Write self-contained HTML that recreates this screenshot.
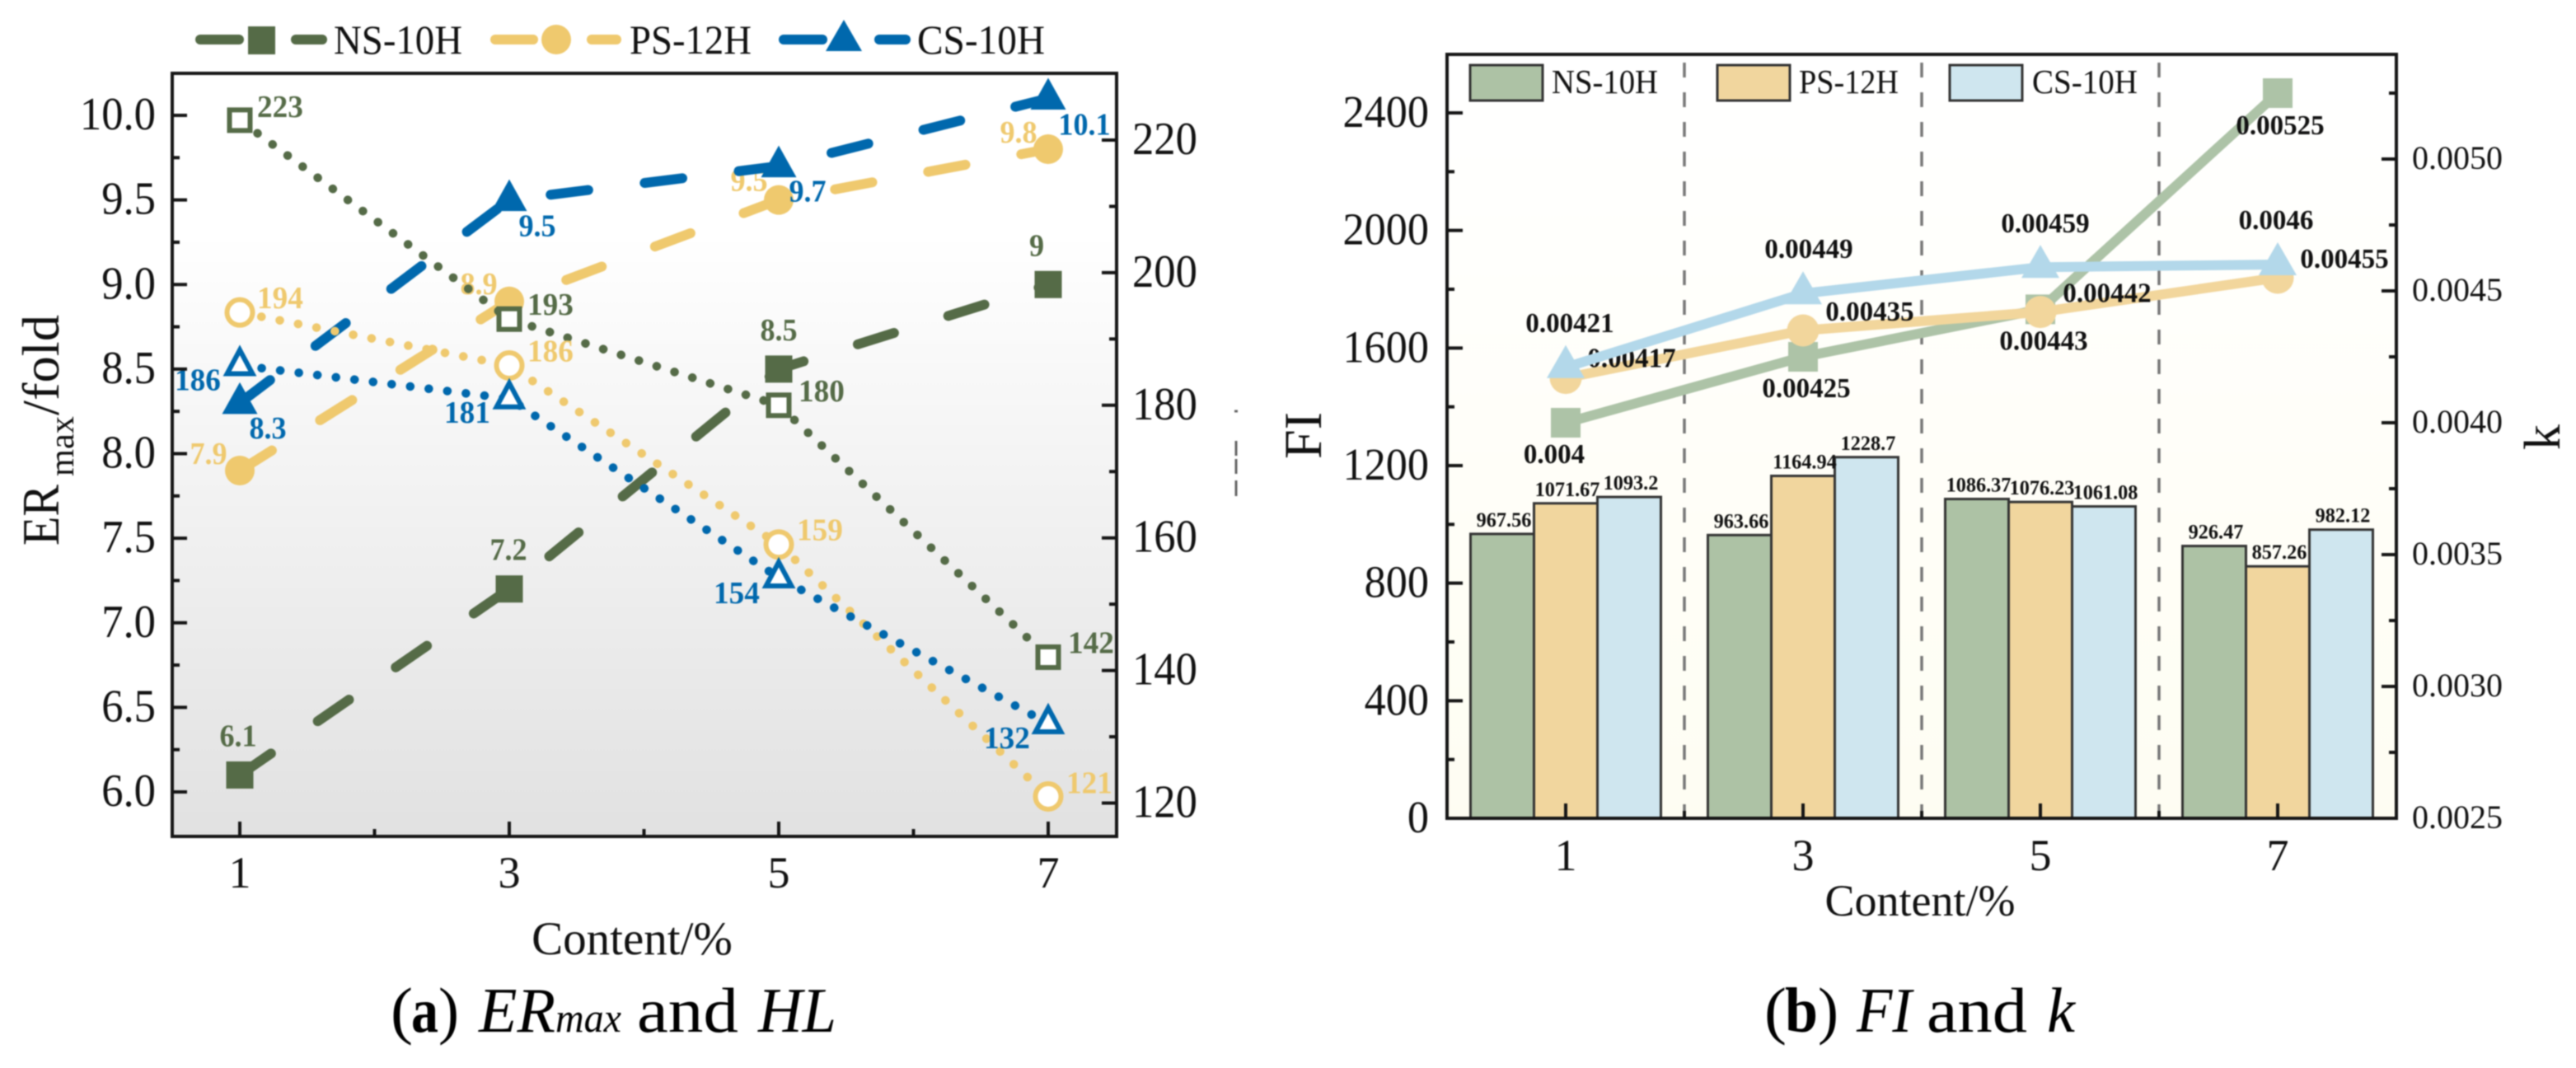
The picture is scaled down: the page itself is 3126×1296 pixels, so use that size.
<!DOCTYPE html>
<html lang="en">
<head>
<meta charset="utf-8">
<title>ERmax, HL, FI and k versus content</title>
<style>
html,body{margin:0;padding:0;background:#fff;}
svg{display:block;font-family:"Liberation Serif",serif;filter:blur(0.7px);}
</style>
</head>
<body>
<svg id="figure" xmlns="http://www.w3.org/2000/svg" width="3126" height="1296" viewBox="0 0 3126 1296">
  <defs>
    <linearGradient id="bgLeft" x1="0" y1="0" x2="0" y2="1">
      <stop offset="0.2" stop-color="#ffffff"/>
      <stop offset="1" stop-color="#e1e1e1"/>
    </linearGradient>
    <linearGradient id="bgRight" x1="0" y1="0" x2="0" y2="1">
      <stop offset="0" stop-color="#ffffff"/>
      <stop offset="1" stop-color="#fefdf2"/>
    </linearGradient>
  </defs>

  <!-- Panel (a) static parts -->
  <g>
    <rect x="209" y="89" width="1146" height="926" fill="url(#bgLeft)"/>
    <g id="a-content"></g>
    <rect x="209" y="89" width="1146" height="926" fill="none" stroke="#151515" stroke-width="4"/>
    <g id="a-axes"></g>

    <g font-size="64" fill="#111">
      <text transform="translate(71 662) rotate(-90)" textLength="74" lengthAdjust="spacingAndGlyphs">ER</text>
      <text transform="translate(89 578) rotate(-90)" font-size="42" textLength="73" lengthAdjust="spacingAndGlyphs">max</text>
      <text transform="translate(71 504) rotate(-90)" textLength="122" lengthAdjust="spacingAndGlyphs">/fold</text>
    </g>
    <text x="767" y="1158" font-size="57" text-anchor="middle" fill="#111">Content/%</text>

    <g>
      <g>
        <line x1="243" y1="48" x2="290" y2="48" stroke="#556b47" stroke-width="12" stroke-linecap="round"/>
        <rect x="301" y="32" width="33" height="34" fill="#556b47"/>
        <line x1="359" y1="48" x2="391" y2="48" stroke="#556b47" stroke-width="12" stroke-linecap="round"/>
        <text x="405" y="65" font-size="50" fill="#111" textLength="156" lengthAdjust="spacingAndGlyphs">NS-10H</text>
      </g>
      <g>
        <line x1="601" y1="48" x2="647" y2="48" stroke="#efc96e" stroke-width="12" stroke-linecap="round"/>
        <circle cx="675" cy="48" r="18" fill="#efc96e"/>
        <line x1="718" y1="48" x2="748" y2="48" stroke="#efc96e" stroke-width="12" stroke-linecap="round"/>
        <text x="764" y="65" font-size="50" fill="#111" textLength="148" lengthAdjust="spacingAndGlyphs">PS-12H</text>
      </g>
      <g>
        <line x1="951" y1="48" x2="998" y2="48" stroke="#0068ad" stroke-width="12" stroke-linecap="round"/>
        <polygon points="1024,24 1046,62 1002,62" fill="#0068ad"/>
        <line x1="1067" y1="48" x2="1099" y2="48" stroke="#0068ad" stroke-width="12" stroke-linecap="round"/>
        <text x="1113" y="65" font-size="50" fill="#111" textLength="155" lengthAdjust="spacingAndGlyphs">CS-10H</text>
      </g>
    </g>

    <g stroke="#666" stroke-width="3">
      <line x1="1498" y1="499" x2="1502" y2="499"/>
      <line x1="1500" y1="535" x2="1500" y2="553"/>
      <line x1="1500" y1="557" x2="1500" y2="575"/>
      <line x1="1500" y1="583" x2="1500" y2="602"/>
    </g>

    <g font-size="77" fill="#000">
      <text x="474" y="1252" textLength="27" lengthAdjust="spacingAndGlyphs">(</text>
      <text x="499" y="1252" font-weight="bold" textLength="33" lengthAdjust="spacingAndGlyphs">a</text>
      <text x="532" y="1252" textLength="25" lengthAdjust="spacingAndGlyphs">)</text>
      <text x="581" y="1252" font-style="italic" textLength="93" lengthAdjust="spacingAndGlyphs">ER</text>
      <text x="674" y="1252" font-style="italic" font-size="50" textLength="80" lengthAdjust="spacingAndGlyphs">max</text>
      <text x="773" y="1252" textLength="123" lengthAdjust="spacingAndGlyphs">and</text>
      <text x="920" y="1252" font-style="italic" textLength="95" lengthAdjust="spacingAndGlyphs">HL</text>
    </g>
  </g>

  <!-- Panel (b) static parts -->
  <g>
    <rect x="1756" y="66" width="1152" height="927" fill="url(#bgRight)"/>
    <g id="b-content"></g>
    <rect x="1756" y="66" width="1152" height="927" fill="none" stroke="#151515" stroke-width="4"/>
    <g id="b-axes"></g>

    <text transform="translate(1603 557) rotate(-90)" font-size="65" fill="#111" textLength="57" lengthAdjust="spacingAndGlyphs">FI</text>
    <text transform="translate(3106 546) rotate(-90)" font-size="62" fill="#111">k</text>
    <text x="2330" y="1111" font-size="54" text-anchor="middle" fill="#111">Content/%</text>

    <g>
      <g>
        <rect x="1784" y="79" width="88" height="43" fill="#adc2a5" stroke="#333" stroke-width="3"/>
        <text x="1883" y="113" font-size="41" fill="#111" textLength="129" lengthAdjust="spacingAndGlyphs">NS-10H</text>
      </g>
      <g>
        <rect x="2084" y="79" width="88" height="43" fill="#f1d69e" stroke="#333" stroke-width="3"/>
        <text x="2183" y="113" font-size="41" fill="#111" textLength="121" lengthAdjust="spacingAndGlyphs">PS-12H</text>
      </g>
      <g>
        <rect x="2366" y="79" width="88" height="43" fill="#cfe6ef" stroke="#333" stroke-width="3"/>
        <text x="2466" y="113" font-size="41" fill="#111" textLength="128" lengthAdjust="spacingAndGlyphs">CS-10H</text>
      </g>
    </g>

    <g font-size="77" fill="#000">
      <text x="2141" y="1252" textLength="27" lengthAdjust="spacingAndGlyphs">(</text>
      <text x="2166" y="1252" font-weight="bold" textLength="40" lengthAdjust="spacingAndGlyphs">b</text>
      <text x="2206" y="1252" textLength="25" lengthAdjust="spacingAndGlyphs">)</text>
      <text x="2253" y="1252" font-style="italic" textLength="67" lengthAdjust="spacingAndGlyphs">FI</text>
      <text x="2338" y="1252" textLength="122" lengthAdjust="spacingAndGlyphs">and</text>
      <text x="2484" y="1252" font-style="italic" textLength="34" lengthAdjust="spacingAndGlyphs">k</text>
    </g>
  </g>
</svg>

<script>
// Categories
const contentLevels = [1, 3, 5, 7];
const contentTickLabels = ['1', '3', '5', '7'];

// Panel (a) series: ERmax (left axis)
const erNS = [6.1, 7.2, 8.5, 9];
const erPS = [7.9, 8.9, 9.5, 9.8];
const erCS = [8.3, 9.5, 9.7, 10.1];

// Panel (a) series: HL (right axis)
const hlNS = [223, 193, 180, 142];
const hlPS = [194, 186, 159, 121];
const hlCS = [186, 181, 154, 132];

// Panel (a) ticks
const erTicks = [6, 6.5, 7, 7.5, 8, 8.5, 9, 9.5, 10];
const erTickLabels = ['6.0', '6.5', '7.0', '7.5', '8.0', '8.5', '9.0', '9.5', '10.0'];
const erMinorTicks = [6.25, 6.75, 7.25, 7.75, 8.25, 8.75, 9.25, 9.75];
const hlTicks = [120, 140, 160, 180, 200, 220];
const hlTickLabels = ['120', '140', '160', '180', '200', '220'];
const hlMinorTicks = [130, 150, 170, 190, 210];

// Panel (b) series: FI bars (left axis)
const fiNS = [967.56, 963.66, 1086.37, 926.47];
const fiPS = [1071.67, 1164.94, 1076.23, 857.26];
const fiCS = [1093.2, 1228.7, 1061.08, 982.12];

// Panel (b) series: k lines (right axis)
const kNS = [0.004, 0.00425, 0.00443, 0.00525];
const kPS = [0.00417, 0.00435, 0.00442, 0.00455];
const kCS = [0.00421, 0.00449, 0.00459, 0.0046];

// Panel (b) ticks
const fiTicks = [0, 400, 800, 1200, 1600, 2000, 2400];
const fiTickLabels = ['0', '400', '800', '1200', '1600', '2000', '2400'];
const fiMinorTicks = [200, 600, 1000, 1400, 1800, 2200];
const kTicks = [0.0025, 0.003, 0.0035, 0.004, 0.0045, 0.005];
const kTickLabels = ['0.0025', '0.0030', '0.0035', '0.0040', '0.0045', '0.0050'];
const kMinorTicks = [0.00275, 0.00325, 0.00375, 0.00425, 0.00475, 0.00525];

// Axis functions
const xA = c => 291 + (c - 1) * 163.5;
const yER = v => 961 - (v - 6) * 205.25;
const yHL = v => 974.5 - (v - 120) * 8.045;
const xB = c => 1756 + c * 144;
const yFI = v => 993 - v * 0.35667;
const yK = v => 993 - (v - 0.0025) * 320000;

const SVG_NS = 'http://www.w3.org/2000/svg';

function mk(parent, tag, name, attrs) {
  const el = document.createElementNS(SVG_NS, tag);
  
  
  for (const k in attrs) el.setAttribute(k, attrs[k]);
  parent.appendChild(el);
  return el;
}

function txt(parent, name, str, x, y, size, fill, anchor, bold, sx) {
  const el = mk(parent, 'text', name, {
    transform: 'translate(' + x + ' ' + y + ') scale(' + (sx || 1) + ' 1)',
    'font-size': size,
    fill: fill,
    'text-anchor': anchor || 'start'
  });
  if (bold) el.setAttribute('font-weight', 'bold');
  el.textContent = str;
  return el;
}

function linePath(xs, ys) {
  return xs.map((x, i) => (i ? 'L' : 'M') + x.toFixed(1) + ' ' + ys[i].toFixed(1)).join(' ');
}

function marker(parent, name, shape, x, y, color, open, big) {
  if (shape === 'square') {
    if (open) {
      mk(parent, 'rect', name, { x: x - 12.5, y: y - 12.5, width: 25, height: 25, fill: '#fff', stroke: color, 'stroke-width': 6 });
    } else {
      const s = big ? 18 : 16.5;
      mk(parent, 'rect', name, { x: x - s, y: y - s, width: s * 2, height: s * 2, fill: color });
    }
  } else if (shape === 'circle') {
    if (open) {
      mk(parent, 'circle', name, { cx: x, cy: y, r: 15.5, fill: '#fff', stroke: color, 'stroke-width': 6 });
    } else {
      mk(parent, 'circle', name, { cx: x, cy: y, r: big ? 19.5 : 18, fill: color });
    }
  } else {
    let pts;
    if (open) {
      pts = [[x, y - 18.8], [x + 15.4, y + 10], [x - 15.4, y + 10]];
      mk(parent, 'polygon', name, { points: pts.map(p => p.join(',')).join(' '), fill: '#fff', stroke: color, 'stroke-width': 6 });
    } else {
      pts = big ? [[x, y - 27], [x + 23, y + 13], [x - 23, y + 13]] : [[x, y - 25], [x + 21.5, y + 13.5], [x - 21.5, y + 13.5]];
      mk(parent, 'polygon', name, { points: pts.map(p => p.join(',')).join(' '), fill: color });
    }
  }
}

// ---------- Panel (a) ----------
const gA = document.getElementById('a-content');
const axA = document.getElementById('a-axes');
const GREEN = '#556b47', YELLOW = '#efc96e', BLUE = '#0068ad';
const LABEL_SIZE = 38;

const erLabelLayout = {
  ns: { anchor: 'middle', nudge: [[-2, -35], [-1, -35], [0, -35], [-14, -35]] },
  ps: { anchor: 'middle', nudge: [[-38, -8], [-37, -9], [-36, -11], [-36, -8]] },
  cs: { anchor: 'middle', nudge: [[34, 43], [34, 44], [35, 43], [44, 44]] }
};
const hlLabelLayout = {
  ns: { anchor: 'start', nudge: [[21, -4], [22, -5], [24, -5], [24, -5]] },
  ps: { anchor: 'start', nudge: [[21, -5], [22, -5], [22, -5], [22, -4]] },
  cs: { anchor: 'start', nudge: [[-79, 30], [-79, 29], [-79, 31], [-78, 30]] }
};

function drawErSeries(key, values, color, shape) {
  const g = mk(gA, 'g', 'er-series-' + key, {});
  const xs = contentLevels.map(xA);
  const ys = values.map(yER);
  mk(g, 'path', 'er-line-' + key, {
    d: linePath(xs, ys), fill: 'none', stroke: color, 'stroke-width': 12,
    'stroke-linecap': 'round', 'stroke-dasharray': '46 69'
  });
  values.forEach((v, i) => {
    marker(g, 'er-point-' + key + '-' + contentLevels[i], shape, xs[i], ys[i], color, false, false);
    const n = erLabelLayout[key].nudge[i];
    txt(g, 'er-label-' + key + '-' + contentLevels[i], String(v), xs[i] + n[0], ys[i] + n[1], LABEL_SIZE, color, 'middle', true, 0.95);
  });
}

function drawHlSeries(key, values, color, shape) {
  const g = mk(gA, 'g', 'hl-series-' + key, {});
  const xs = contentLevels.map(xA);
  const ys = values.map(yHL);
  mk(g, 'path', 'hl-line-' + key, {
    d: linePath(xs, ys), fill: 'none', stroke: color, 'stroke-width': 10.5,
    'stroke-linecap': 'round', 'stroke-dasharray': '0.1 22.6', 'stroke-dashoffset': -4
  });
  values.forEach((v, i) => {
    marker(g, 'hl-point-' + key + '-' + contentLevels[i], shape, xs[i], ys[i], color, true, false);
    const n = hlLabelLayout[key].nudge[i];
    txt(g, 'hl-label-' + key + '-' + contentLevels[i], String(v), xs[i] + n[0], ys[i] + n[1], LABEL_SIZE, color, 'start', true, 0.98);
  });
}

drawErSeries('ns', erNS, GREEN, 'square');
drawErSeries('ps', erPS, YELLOW, 'circle');
drawErSeries('cs', erCS, BLUE, 'triangle');
drawHlSeries('ns', hlNS, GREEN, 'square');
drawHlSeries('ps', hlPS, YELLOW, 'circle');
drawHlSeries('cs', hlCS, BLUE, 'triangle');

const TICK = { stroke: '#151515', 'stroke-width': 4 };
function tick(parent, name, x1, y1, x2, y2) {
  mk(parent, 'line', name, Object.assign({ x1: x1, y1: y1, x2: x2, y2: y2 }, TICK));
}

erTicks.forEach((v, i) => {
  tick(axA, 'er-tick', 209, yER(v), 227, yER(v));
  txt(axA, 'er-tick-label', erTickLabels[i], 189, yER(v) + 17, 56, '#111', 'end', false, 0.94);
});
erMinorTicks.forEach(v => tick(axA, 'er-minor-tick', 209, yER(v), 218, yER(v)));
hlTicks.forEach((v, i) => {
  tick(axA, 'hl-tick', 1355, yHL(v), 1337, yHL(v));
  txt(axA, 'hl-tick-label', hlTickLabels[i], 1374, yHL(v) + 17, 56, '#111', 'start', false, 0.94);
});
hlMinorTicks.forEach(v => tick(axA, 'hl-minor-tick', 1355, yHL(v), 1346, yHL(v)));
contentLevels.forEach((c, i) => {
  tick(axA, 'x-tick-a', xA(c), 1015, xA(c), 997);
  txt(axA, 'x-tick-label-a', contentTickLabels[i], xA(c), 1077, 54, '#111', 'middle');
  if (i < contentLevels.length - 1) {
    tick(axA, 'x-minor-tick-a', xA(c + 1), 1015, xA(c + 1), 1006);
  }
});

// ---------- Panel (b) ----------
const gB = document.getElementById('b-content');
const axB = document.getElementById('b-axes');

contentLevels.slice(0, 3).forEach(c => {
  mk(gB, 'line', 'group-separator', {
    x1: xB(c + 1), y1: 76, x2: xB(c + 1), y2: 993,
    stroke: '#777', 'stroke-width': 3.5, 'stroke-dasharray': '18 18'
  });
});

const BAR_W = 77;
function drawBars(key, values, color, slot) {
  const g = mk(gB, 'g', 'fi-bars-' + key, {});
  values.forEach((v, i) => {
    const x = xB(contentLevels[i]) + (slot - 1.5) * BAR_W;
    mk(g, 'rect', 'fi-bar-' + key + '-' + contentLevels[i], {
      x: x, y: yFI(v), width: BAR_W, height: 993 - yFI(v), fill: color, stroke: '#333', 'stroke-width': 3
    });
  });
  return g;
}
function drawBarLabels(key, values, slot) {
  const g = mk(gB, 'g', 'fi-labels-' + key, {});
  values.forEach((v, i) => {
    const x = xB(contentLevels[i]) + (slot - 1) * BAR_W + 2;
    txt(g, 'fi-label-' + key + '-' + contentLevels[i], String(v), x, yFI(v) - 9, 25, '#111', 'middle', true, 0.97);
  });
}
drawBars('ns', fiNS, '#adc2a5', 0);
drawBars('ps', fiPS, '#f1d69e', 1);
drawBars('cs', fiCS, '#cfe6ef', 2);
drawBarLabels('ns', fiNS, 0);
drawBarLabels('ps', fiPS, 1);
drawBarLabels('cs', fiCS, 2);

const kLabelNudge = {
  ns: [[-14, 49], [4, 49], [4, 49], [3, 50]],
  ps: [[80, -13], [81, -12], [81, -12], [81, -12]],
  cs: [[5, -43], [7, -43], [6, -42], [-2, -43]]
};
function drawKSeries(key, values, color, shape) {
  const g = mk(gB, 'g', 'k-series-' + key, {});
  const xs = contentLevels.map(xB);
  const ys = values.map(yK);
  mk(g, 'path', 'k-line-' + key, { d: linePath(xs, ys), fill: 'none', stroke: color, 'stroke-width': 12 });
  values.forEach((v, i) => {
    marker(g, 'k-point-' + key + '-' + contentLevels[i], shape, xs[i], ys[i], color, false, true);
    const n = kLabelNudge[key][i];
    txt(g, 'k-label-' + key + '-' + contentLevels[i], String(v), xs[i] + n[0], ys[i] + n[1], 34, '#111', 'middle', true, 0.97);
  });
}
drawKSeries('ns', kNS, '#adc3a7', 'square');
drawKSeries('ps', kPS, '#f2d69c', 'circle');
drawKSeries('cs', kCS, '#b3d8ea', 'triangle');

fiTicks.forEach((v, i) => {
  tick(axB, 'fi-tick', 1756, yFI(v), 1775, yFI(v));
  txt(axB, 'fi-tick-label', fiTickLabels[i], 1734, yFI(v) + 17, 55, '#111', 'end', false, 0.95);
});
fiMinorTicks.forEach(v => tick(axB, 'fi-minor-tick', 1756, yFI(v), 1765, yFI(v)));
kTicks.forEach((v, i) => {
  tick(axB, 'k-tick', 2908, yK(v), 2890, yK(v));
  txt(axB, 'k-tick-label', kTickLabels[i], 2927, yK(v) + 12, 40, '#111', 'start');
});
kMinorTicks.forEach(v => tick(axB, 'k-minor-tick', 2908, yK(v), 2899, yK(v)));
contentLevels.forEach((c, i) => {
  tick(axB, 'x-tick-b', xB(c), 993, xB(c), 975);
  txt(axB, 'x-tick-label-b', contentTickLabels[i], xB(c), 1056, 54, '#111', 'middle');
  if (i < contentLevels.length - 1) {
    tick(axB, 'x-minor-tick-b', xB(c + 1), 993, xB(c + 1), 984);
  }
});
</script>
</body>
</html>
